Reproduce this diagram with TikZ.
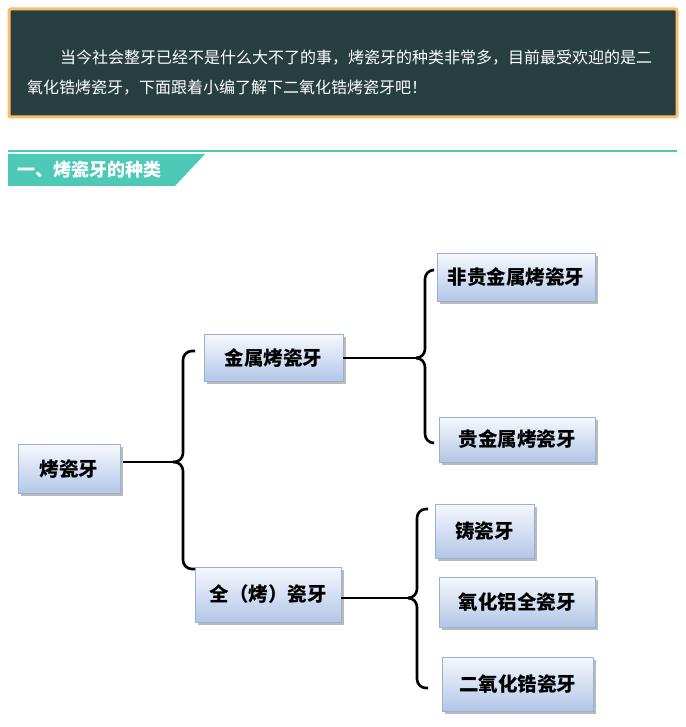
\documentclass[tikz,border=0pt]{standalone}
\usepackage{fontspec}
\setmainfont{Noto Sans CJK SC}
\newfontfamily\cjk{Noto Sans CJK SC}
\usetikzlibrary{shadows}
\definecolor{bannerbg}{HTML}{283F40}
\definecolor{bannerline}{HTML}{FBBE6F}
\definecolor{teal}{HTML}{4EC9B7}
\definecolor{boxtop}{HTML}{F6F8FD}
\definecolor{boxbot}{HTML}{B3C6E7}
\definecolor{boxline}{HTML}{95B3D7}
\tikzset{
  catbox/.style={draw=boxline, line width=0.8pt, top color=boxtop, bottom color=boxbot,
    inner sep=0pt, font=\cjk\bfseries\fontsize{19.5}{22}\selectfont, text=black,
    drop shadow={shadow xshift=2.5pt, shadow yshift=-2.5pt, fill=black!45, opacity=0.6}},
  brace/.style={line width=2.6pt, black, rounded corners=9pt},
  link/.style={line width=2.6pt, black},
  intro/.style={anchor=west, inner sep=0pt, text=white, font=\cjk\fontsize{16}{18}\selectfont}
}
\begin{document}
\begin{tikzpicture}[x=1pt,y=-1pt]
\useasboundingbox (0,0) rectangle (685,727);
\fill[white] (0,0) rectangle (685,727);
% banner
\draw[bannerline, line width=3pt, fill=bannerbg, rounded corners=2pt] (9,9) rectangle (677,117);
\node[intro] (l1) at (60,58) {当今社会整牙已经不是什么大不了的事，烤瓷牙的种类非常多，目前最受欢迎的是二};
\node[intro] (l2) at (27,88) {氧化锆烤瓷牙，下面跟着小编了解下二氧化锆烤瓷牙吧！};
% heading
\draw[teal, line width=2.5pt] (8,151) -- (677,151);
\fill[teal] (8,154) -- (205,154) -- (175,186) -- (8,186) -- cycle;
\node[anchor=west, inner sep=0pt, text=white, font=\cjk\bfseries\fontsize{18}{20}\selectfont] (h) at (17,170) {一、烤瓷牙的种类};
% nodes
\node[catbox, minimum width=102pt, minimum height=49pt] (root) at (69,469) {烤瓷牙};
\node[catbox, minimum width=139pt, minimum height=47pt] (metal) at (273.5,358) {金属烤瓷牙};
\node[catbox, minimum width=146pt, minimum height=55pt] (allc) at (268,594.5) {全（烤）瓷牙};
\node[catbox, minimum width=158pt, minimum height=48pt] (n1) at (516,277) {非贵金属烤瓷牙};
\node[catbox, minimum width=156pt, minimum height=45pt] (n2) at (517,439.5) {贵金属烤瓷牙};
\node[catbox, minimum width=99pt, minimum height=54pt] (n3) at (484.5,531) {铸瓷牙};
\node[catbox, minimum width=156pt, minimum height=50pt] (n4) at (517,602) {氧化铝全瓷牙};
\node[catbox, minimum width=151pt, minimum height=54pt] (n5) at (517.5,684) {二氧化锆瓷牙};
% brace 1
\coordinate (t1) at (173,462);
\coordinate (a1) at (195,351);
\coordinate (b1) at (195,569);
\draw[link] ([xshift=3pt,yshift=7pt]root.east) -- (t1);
\draw[brace] (a1) -- (183,351) -- (183,462) -- (t1);
\draw[brace] (b1) -- (183,569) -- (183,462) -- (t1);
% brace 2
\coordinate (t2) at (418,358);
\coordinate (a2) at (433,270);
\coordinate (b2) at (433,443);
\draw[link] (metal.east) -- (t2);
\draw[brace] (a2) -- (425,270) -- (425,358) -- (t2);
\draw[brace] (b2) -- (425,443) -- (425,358) -- (t2);
% brace 3
\coordinate (t3) at (410,598);
\coordinate (a3) at (428,509);
\coordinate (b3) at (428,688);
\draw[link] ([yshift=-3.5pt]allc.east) -- (t3);
\draw[brace] (a3) -- (417,509) -- (417,598) -- (t3);
\draw[brace] (b3) -- (417,688) -- (417,598) -- (t3);
\end{tikzpicture}
\end{document}
